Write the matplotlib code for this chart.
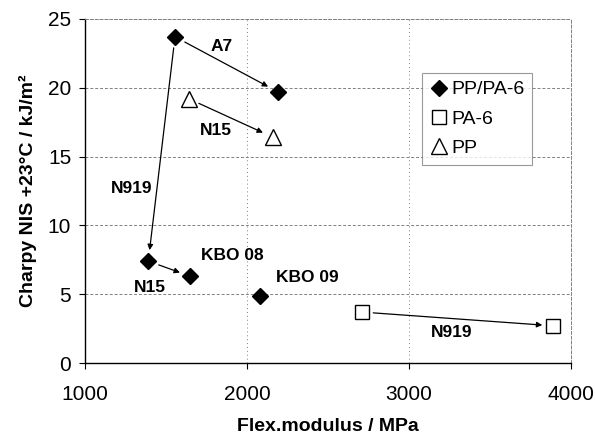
import matplotlib.pyplot as plt

plt.rcParams['font.family'] = ['Liberation Sans', 'DejaVu Sans']

# PP/PA-6 blends
blend_x = [1555, 2190, 1390, 1650, 2080]
blend_y = [23.7, 19.7, 7.4, 6.3, 4.9]
# PA-6
pa6_x = [2710, 3890]
pa6_y = [3.7, 2.7]
# PP
pp_x = [1640, 2160]
pp_y = [19.2, 16.4]

fig, ax = plt.subplots(figsize=(5.95, 4.4), dpi=100)
fig.subplots_adjust(left=0.143, right=0.96, top=0.957, bottom=0.175)

ax.plot(blend_x, blend_y, 'D', color='black', ms=8, ls='none', label='PP/PA-6')
ax.plot(pa6_x, pa6_y, 's', mfc='white', mec='black', ms=10, ls='none', label='PA-6')
ax.plot(pp_x, pp_y, '^', mfc='white', mec='black', ms=11, ls='none', label='PP')

def arrow(x0, y0, x1, y1):
    ax.annotate('', xy=(x1, y1), xytext=(x0, y0),
                arrowprops=dict(arrowstyle='-|>', color='black', lw=0.9,
                                mutation_scale=8, shrinkA=8, shrinkB=8))

arrow(blend_x[0], blend_y[0], blend_x[1], blend_y[1])
arrow(blend_x[0], blend_y[0], blend_x[2], blend_y[2])
arrow(blend_x[2], blend_y[2], blend_x[3], blend_y[3])
arrow(pp_x[0], pp_y[0], pp_x[1], pp_y[1])
arrow(pa6_x[0], pa6_y[0], pa6_x[1], pa6_y[1])

lab = dict(fontsize=12.5, fontweight='bold', ha='center', va='center')
ax.text(1845, 23.0, 'A7', **lab)
ax.text(1810, 16.9, 'N15', **lab)
ax.text(1285, 12.7, 'N919', **lab)
ax.text(1910, 7.8, 'KBO 08', **lab)
ax.text(1400, 5.45, 'N15', **lab)
ax.text(2370, 6.2, 'KBO 09', **lab)
ax.text(3265, 2.2, 'N919', **lab)

ax.set_xlim(1000, 4000)
ax.set_ylim(0, 25)
ax.set_xticks([1000, 2000, 3000, 4000])
ax.set_yticks([0, 5, 10, 15, 20, 25])
ax.tick_params(labelsize=15, direction='out', length=4)
ax.tick_params(axis='x', pad=12)
ax.tick_params(axis='y', pad=6)

ax.yaxis.grid(True, color='gray', ls=(0, (3, 2)), lw=0.7)
ax.xaxis.grid(True, color='gray', ls=(0, (1, 3)), lw=0.7)
ax.set_axisbelow(True)
for s in ['top', 'right']:
    ax.spines[s].set_color('gray')
    ax.spines[s].set_linestyle((0, (3, 2)))
    ax.spines[s].set_linewidth(0.7)
ax.spines['left'].set_linewidth(1.0)
ax.spines['bottom'].set_linewidth(1.0)

ax.set_xlabel('Flex.modulus / MPa', fontsize=14, fontweight='bold', labelpad=10)
ax.set_ylabel('Charpy NIS +23°C / kJ/m²', fontsize=14, fontweight='bold', labelpad=8)

leg = ax.legend(loc='upper right', bbox_to_anchor=(0.92, 0.843), fontsize=14,
                frameon=True, fancybox=False, edgecolor='gray', handletextpad=0.2,
                handlelength=0.9, borderpad=0.4, labelspacing=0.6, borderaxespad=0)
leg.get_frame().set_linewidth(0.8)

fig.savefig('out.png')
